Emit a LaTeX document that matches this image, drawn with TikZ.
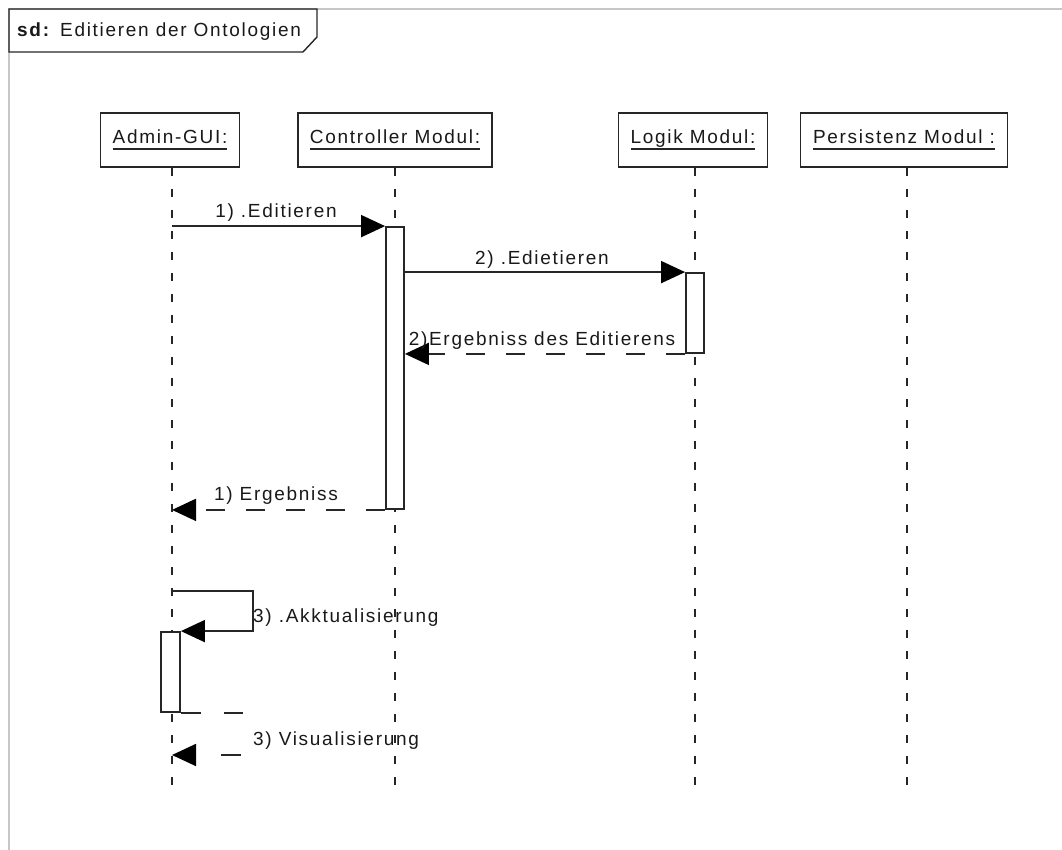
\documentclass[tikz,border=0pt]{standalone}
\usepackage{fontspec}
\setmainfont{Liberation Sans}[LetterSpace=9]
\usetikzlibrary{arrows.meta}
\definecolor{ink}{gray}{0.15}
\definecolor{framegray}{gray}{0.78}
\definecolor{txt}{gray}{0.1}
% lifeline name with a fixed-offset underline
\newcommand\lifename[1]{\setbox0=\hbox{#1}\rlap{\copy0}\raisebox{-6pt}{\color{ink}\rule{\wd0}{1.6pt}}}

\begin{document}
\begin{tikzpicture}[x=1pt,y=-1pt,
  every node/.style={font=\fontsize{19}{22}\selectfont, text=txt, inner sep=0pt},
  head/.style={draw=ink, line width=1.8pt, fill=white, minimum height=54pt},
  act/.style={draw=ink, line width=1.8pt, fill=white},
  life/.style={ink, line width=1.6pt, dash pattern=on 8pt off 13pt},
  msg/.style={ink, line width=1.8pt, -{Triangle[length=24pt,width=22pt,fill=black,color=black]}},
  ret/.style={msg, dash pattern=on 19pt off 21pt},
  lbl/.style={anchor=base}]
\useasboundingbox (0,0) rectangle (1062,850);

% diagram frame and its title tab
\draw[framegray, line width=2pt] (9,850) -- (9,9) -- (1062,9);
\node[anchor=base west] (title) at (17,37) {\textbf{sd:} Editieren der Ontologien};
\draw[ink, line width=1.4pt] (9,9) -- (317,9) -- (317,37) -- (303,52) -- (9,52) -- cycle;

% lifeline heads
\node[head, minimum width=139pt] (hA) at (170,140) {\lifename{Admin-GUI:}};
\node[head, minimum width=194pt] (hC) at (395,140) {\lifename{Controller Modul:}};
\node[head, minimum width=149pt] (hL) at (693,140) {\lifename{Logik Modul:}};
\node[head, minimum width=207pt] (hP) at (904,140) {\lifename{Persistenz Modul :}};

% lifeline ends
\coordinate (eA) at (172,795);
\coordinate (eC) at (395,795);
\coordinate (eL) at (695,795);
\coordinate (eP) at (907,795);

\draw[life] (hA.south -| eA) -- (eA);
\draw[life] (hC.south -| eC) -- (eC);
\draw[life] (hL.south -| eL) -- (eL);
\draw[life] (hP.south -| eP) -- (eP);

% activation bars
\node[act, minimum width=18pt, minimum height=282pt] (actC) at (395,368) {};
\node[act, minimum width=18pt, minimum height=80pt] (actL) at (695,313) {};
\node[act, minimum width=19pt, minimum height=80pt] (actA) at (170.5,672) {};

% 1) Editieren
\draw[msg] (actC.north west -| eA) -- (actC.north west);
\node[lbl] (l1) at (276,218) {1) .Editieren};

% 2) Edietieren
\draw[msg] (actL.north west -| actC.east) -- (actL.north west);
\node[lbl] (l2) at (542,265) {2) .Edietieren};

% 2) reply
\draw[ret] (actL.south west) -- (actL.south west -| actC.east);
\node[lbl] (l2r) at (542,345) {2)Ergebniss des Editierens};

% 1) reply
\draw[ret] (actC.south west) -- (actC.south west -| eA);
\node[lbl] (l1r) at (276,500) {1) Ergebniss};

% 3) self call
\coordinate (s0) at (172,591);
\draw[msg] (s0) -- ++(81,0) |- (actA.north east);
\node[anchor=base west] (l3) at (253,622) {3) .Akktualisierung};

% 3) self reply
\coordinate (r3) at (172,755);
\draw[msg, dash pattern=on 20pt off 23pt on 19pt off 44pt on 20pt off 40pt]
  (actA.south east) -- ++(62,0) |- (r3);
\node[anchor=base west] (l3r) at (253,745) {3) Visualisierung};
\end{tikzpicture}
\end{document}
